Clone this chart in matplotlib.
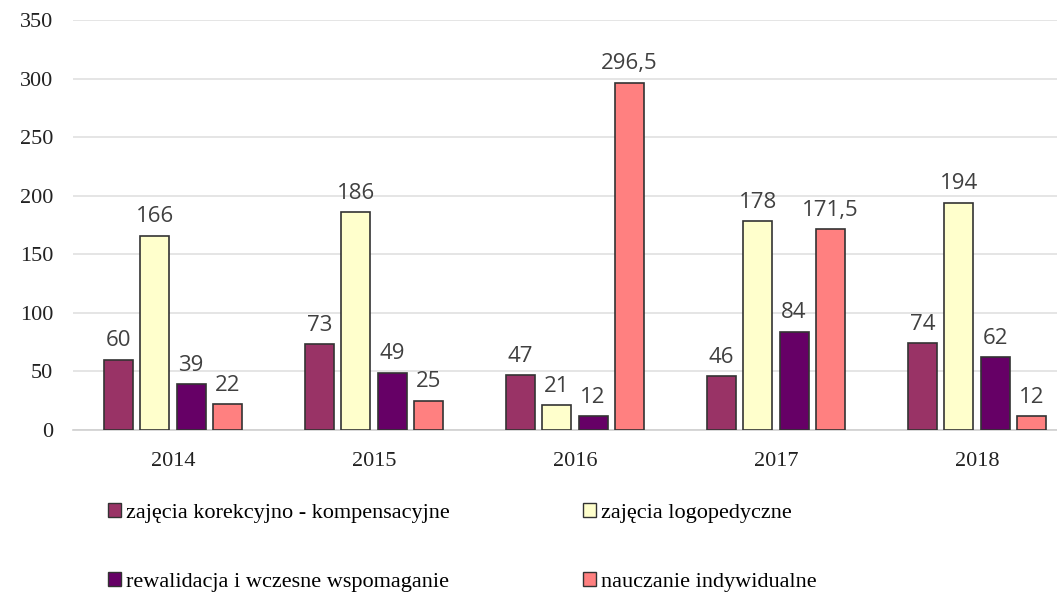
import numpy as np
import matplotlib
matplotlib.use('Agg')
import matplotlib.pyplot as plt
from matplotlib.patches import Patch

years = ['2014', '2015', '2016', '2017', '2018']
series = ['zajęcia korekcyjno - kompensacyjne', 'zajęcia logopedyczne',
          'rewalidacja i wczesne wspomaganie', 'nauczanie indywidualne']
korekcyjne = [60, 73, 47, 46, 74]
logopedyczne = [166, 186, 21, 178, 194]
rewalidacja = [39, 49, 12, 84, 62]
indywidualne = [22, 25, 296.5, 171.5, 12]
colors = ['#993366', '#FFFFCC', '#660066', '#FF8080']

fig = plt.figure(figsize=(10.57, 5.96), dpi=100)
ax = fig.add_axes([72.5 / 1057, 166 / 596, 1005 / 1057, 410 / 596])

x = np.arange(len(years))
step = 0.18
width = 0.145
for i, vals in enumerate([korekcyjne, logopedyczne, rewalidacja, indywidualne]):
    pos = x + (i - 1.5) * step
    bars = ax.bar(pos, vals, width, color=colors[i], edgecolor='#333333', linewidth=1.2, zorder=3)
    labels = [f'{v:g}'.replace('.', ',') for v in vals]
    ax.bar_label(bars, labels=labels, padding=6, fontsize=16, color='#404040',
                 family='Open Sans')

ax.set_xlim(-0.5, 4.5)
ax.set_ylim(0, 350)
ax.set_yticks(range(0, 351, 50))
ax.set_xticks(x)
ax.set_xticklabels(years)
ax.grid(axis='y', color='#e0e0e0', linewidth=1.2, zorder=0)
for s in ['top', 'right', 'left']:
    ax.spines[s].set_visible(False)
ax.spines['bottom'].set_color('#d0d0d0')
ax.spines['bottom'].set_linewidth(1.2)
ax.tick_params(axis='both', length=0, labelsize=16, labelcolor='#222222', pad=16)
ax.tick_params(axis='y', pad=14)
for t in ax.get_xticklabels() + ax.get_yticklabels():
    t.set_family('Liberation Serif')

# row-wise order: legend fills columns first
order = [0, 2, 1, 3]
handles = [Patch(facecolor=colors[k], edgecolor='#333333', linewidth=1) for k in order]
fig.legend(handles, [series[k] for k in order], ncol=2, loc='upper left',
           bbox_to_anchor=(108 / 1057, 93 / 596), borderpad=0, borderaxespad=0,
           frameon=False, prop={'family': 'Liberation Serif', 'size': 16},
           handlelength=0.6, handleheight=0.6, handletextpad=0.2,
           labelspacing=2.2, columnspacing=6.0)

fig.savefig('out.png', dpi=100)
